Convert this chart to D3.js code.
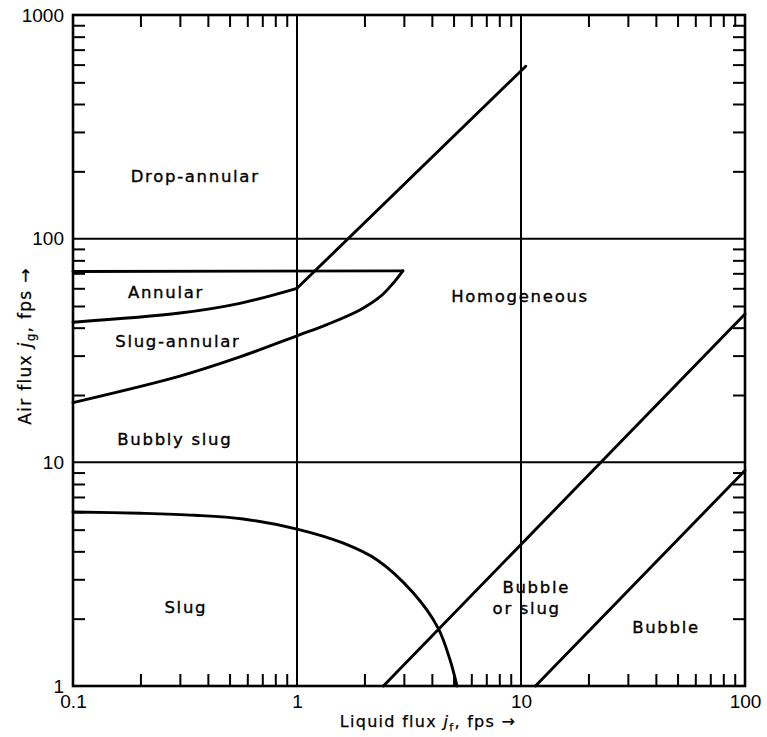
<!DOCTYPE html>
<html>
<head>
<meta charset="utf-8">
<script src="https://cdn.jsdelivr.net/npm/d3@7"></script>
<style>
  html, body { margin: 0; padding: 0; background: #fff; }
  svg { display: block; }
  .region { font-family: "DejaVu Sans", sans-serif; font-size: 16.5px; letter-spacing: 1.7px; fill: #000; stroke: #000; stroke-width: 0.35px; }
  .ticklab { font-family: "Liberation Sans", sans-serif; font-size: 19px; fill: #000; }
  .title { font-family: "DejaVu Sans", sans-serif; letter-spacing: 1.3px; fill: #000; stroke: #000; stroke-width: 0.25px; }
</style>
</head>
<body>
<svg id="chart" width="767" height="737"></svg>
<script>
// Flow-regime map: air flux j_g vs liquid flux j_f (both fps, log-log)

const xTickValues = [0.1, 1, 10, 100];
const xTickLabels = ["0.1", "1", "10", "100"];
const yTickValues = [1, 10, 100, 1000];
const yTickLabels = ["1", "10", "100", "1000"];

// Full-span boundary lines
const verticalGrid = [1, 10];
const horizontalGrid = [10, 100];

// Regime boundaries, [j_f, j_g]
const annularTop = [[0.1, 71.3], [2.97, 71.8]];
const annularBottom = [[0.1, 42.3], [0.3, 46.5], [0.556, 51.4], [1, 60]];
const dropAnnularEdge = [[1, 60], [10.5, 590]];
const slugAnnularBottom = [[0.1, 18.5], [0.3, 24.3], [0.556, 29.6], [1, 36.8], [1.36, 41.3], [1.91, 48], [2.35, 55], [2.68, 63], [2.97, 71.8]];
const slugTop = [[0.1, 6.0], [0.2, 5.92], [0.35, 5.8], [0.575, 5.58], [1, 5.03], [1.6, 4.36], [2.28, 3.66], [3.3, 2.61], [4.26, 1.82], [4.82, 1.31], [5.18, 1]];
const bubbleOrSlugEdge = [[2.43, 1], [100, 46]];
const bubbleEdge = [[11.6, 1], [100, 9.2]];

// Regime names and where each sits (j_f, j_g at the text baseline centre)
const regionNames = ["Drop-annular", "Annular", "Slug-annular", "Bubbly slug", "Homogeneous", "Slug", "Bubble", "or slug", "Bubble"];
const regionAt = [[0.351, 179], [0.26, 54.3], [0.294, 32.8], [0.285, 11.9], [9.9, 52.1], [0.319, 2.12], [11.7, 2.61], [10.6, 2.10], [44.4, 1.73]];

const svg = d3.select("#chart");
const plotL = 73, plotR = 745, plotT = 15, plotB = 686;

const x = d3.scaleLog().domain([0.1, 100]).range([plotL, plotR]);
const y = d3.scaleLog().domain([1, 1000]).range([plotB, plotT]);

// minor ticks: every log tick except the decades
const xMinor = x.ticks().filter(v => !xTickValues.some(d => Math.abs(d - v) < 1e-9));
const yMinor = y.ticks().filter(v => !yTickValues.some(d => Math.abs(d - v) < 1e-9));

function minorAxis(g, axis) {
  g.call(axis);
  g.select(".domain").remove();
  g.selectAll(".tick line").attr("stroke", "#000").attr("stroke-width", 2);
  g.selectAll(".tick text").remove();
}

const tl = 12;
svg.append("g").attr("transform", `translate(0,${plotB})`)
  .call(g => minorAxis(g, d3.axisBottom(x).tickValues(xMinor).tickSize(-tl)));
svg.append("g").attr("transform", `translate(0,${plotT})`)
  .call(g => minorAxis(g, d3.axisTop(x).tickValues(xMinor).tickSize(-tl)));
svg.append("g").attr("transform", `translate(${plotL},0)`)
  .call(g => minorAxis(g, d3.axisLeft(y).tickValues(yMinor).tickSize(-tl)));
svg.append("g").attr("transform", `translate(${plotR},0)`)
  .call(g => minorAxis(g, d3.axisRight(y).tickValues(yMinor).tickSize(-tl)));

// tick labels
const xLab = svg.append("g").attr("transform", `translate(0,${plotB})`)
  .call(d3.axisBottom(x).tickValues(xTickValues).tickSize(0).tickPadding(0)
    .tickFormat((d, i) => xTickLabels[i]));
xLab.attr("font-family", null).attr("font-size", null);
xLab.select(".domain").remove();
xLab.selectAll(".tick text").attr("class", "ticklab")
  .attr("fill", null).attr("dy", null).attr("y", 22);

const yLab = svg.append("g").attr("transform", `translate(${plotL},0)`)
  .call(d3.axisLeft(y).tickValues(yTickValues).tickSize(0).tickPadding(9)
    .tickFormat((d, i) => yTickLabels[i]));
yLab.attr("font-family", null).attr("font-size", null);
yLab.select(".domain").remove();
yLab.selectAll(".tick text").attr("class", "ticklab")
  .attr("fill", null).attr("dy", "0.32em");

// decade grid lines
svg.append("g").selectAll("line").data(verticalGrid).join("line")
  .attr("x1", d => x(d)).attr("x2", d => x(d)).attr("y1", plotT).attr("y2", plotB)
  .attr("stroke", "#000").attr("stroke-width", 2);
svg.append("g").selectAll("line").data(horizontalGrid).join("line")
  .attr("y1", d => y(d)).attr("y2", d => y(d)).attr("x1", plotL).attr("x2", plotR)
  .attr("stroke", "#000").attr("stroke-width", 2);

// frame
svg.append("rect").attr("x", plotL).attr("y", plotT)
  .attr("width", plotR - plotL).attr("height", plotB - plotT)
  .attr("fill", "none").attr("stroke", "#000").attr("stroke-width", 2.6);

// regime boundaries
const straight = d3.line().x(d => x(d[0])).y(d => y(d[1]));
const rounded = d3.line().x(d => x(d[0])).y(d => y(d[1])).curve(d3.curveCatmullRom.alpha(0.5));
const curves = [
  [annularTop, straight],
  [annularBottom, rounded],
  [dropAnnularEdge, straight],
  [slugAnnularBottom, rounded],
  [slugTop, rounded],
  [bubbleOrSlugEdge, straight],
  [bubbleEdge, straight]
];
svg.append("g").selectAll("path").data(curves).join("path")
  .attr("d", d => d[1](d[0]))
  .attr("fill", "none").attr("stroke", "#000").attr("stroke-width", 2.9)
  .attr("stroke-linejoin", "round").attr("stroke-linecap", "round");

// regime names
svg.append("g").selectAll("text").data(regionNames).join("text")
  .attr("class", "region")
  .attr("text-anchor", "middle")
  .attr("x", (d, i) => x(regionAt[i][0]))
  .attr("y", (d, i) => y(regionAt[i][1]))
  .text(d => d);

// axis titles
const xt = svg.append("text").attr("class", "title").attr("font-size", 16)
  .attr("text-anchor", "middle").attr("x", 428).attr("y", 727);
xt.append("tspan").text("Liquid flux ");
xt.append("tspan").attr("font-style", "italic").text("j");
xt.append("tspan").attr("font-size", "11px").attr("dy", 4).text("f");
xt.append("tspan").attr("dy", -4).text(",  fps \u2192");

const yt = svg.append("text").attr("class", "title").attr("font-size", 17)
  .attr("text-anchor", "middle")
  .attr("transform", "translate(31,346) rotate(-90)");
yt.append("tspan").text("Air flux ");
yt.append("tspan").attr("font-style", "italic").text("j");
yt.append("tspan").attr("font-size", "12px").attr("dy", 4).text("g");
yt.append("tspan").attr("dy", -4).text(",  fps \u2192");
</script>
</body>
</html>
